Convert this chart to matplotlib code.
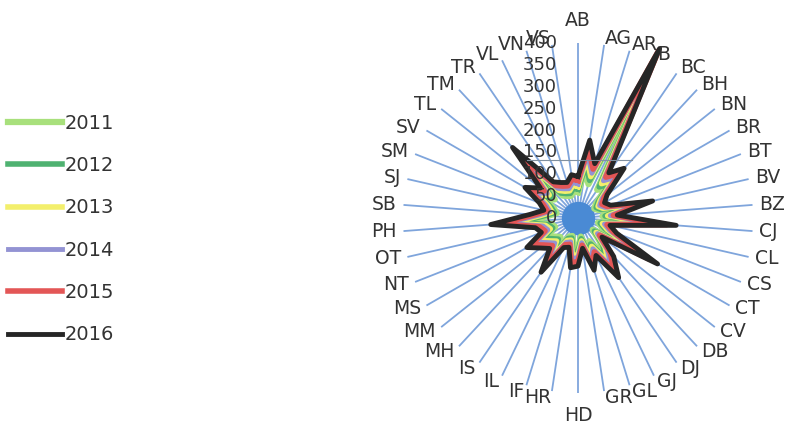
import numpy as np
import matplotlib
matplotlib.use('Agg')
import matplotlib.pyplot as plt
from matplotlib.transforms import offset_copy
from matplotlib.lines import Line2D

categories = ['AB', 'AG', 'AR', 'B', 'BC', 'BH', 'BN', 'BR', 'BT', 'BV', 'BZ', 'CJ',
              'CL', 'CS', 'CT', 'CV', 'DB', 'DJ', 'GJ', 'GL', 'GR', 'HD', 'HR', 'IF',
              'IL', 'IS', 'MH', 'MM', 'MS', 'NT', 'OT', 'PH', 'SB', 'SJ', 'SM', 'SV',
              'TL', 'TM', 'TR', 'VL', 'VN', 'VS']
years = ['2011', '2012', '2013', '2014', '2015', '2016']

v2011 = [59, 112, 81, 398, 78, 96, 53, 43, 50, 109, 56, 140, 47, 59, 130, 43, 74, 102, 59, 78, 43,
         68, 71, 43, 47, 93, 59, 68, 84, 56, 62, 124, 68, 50, 59, 87, 68, 136, 62, 56, 53, 62]
v2012 = [66, 124, 90, 405, 86, 107, 59, 48, 55, 121, 62, 155, 52, 66, 145, 48, 83, 114, 66, 86, 48,
         76, 79, 48, 52, 104, 66, 76, 93, 62, 69, 138, 76, 55, 66, 97, 76, 152, 69, 62, 59, 69]
v2013 = [72, 137, 99, 412, 95, 118, 65, 53, 61, 133, 68, 171, 57, 72, 160, 53, 91, 125, 72, 95, 53,
         84, 87, 53, 57, 114, 72, 84, 103, 68, 76, 152, 84, 61, 72, 106, 84, 167, 76, 68, 65, 76]
v2014 = [78, 148, 107, 418, 103, 127, 70, 57, 66, 144, 74, 185, 62, 78, 172, 57, 98, 135, 78, 103, 57,
         90, 94, 57, 62, 123, 78, 90, 111, 74, 82, 164, 90, 66, 78, 115, 90, 180, 82, 74, 70, 82]
v2015 = [86, 162, 117, 424, 113, 140, 77, 63, 72, 158, 81, 203, 68, 86, 189, 63, 108, 149, 86, 113, 63,
         99, 104, 63, 68, 135, 86, 99, 122, 81, 90, 180, 99, 72, 86, 126, 99, 198, 90, 81, 77, 90]
v2016 = [95, 180, 130, 430, 125, 155, 85, 70, 80, 175, 90, 225, 75, 95, 210, 70, 120, 165, 95, 125, 70,
         110, 115, 70, 75, 150, 95, 110, 135, 90, 100, 200, 110, 80, 95, 140, 110, 220, 100, 90, 85, 100]

radial_ticks = [0, 50, 100, 150, 200, 250, 300, 350, 400]

series = [v2011, v2012, v2013, v2014, v2015, v2016]
colors = ['#a8e07c', '#4fb271', '#f3ef6c', '#9393d3', '#e35656', '#262626']
widths = [4.5, 4.0, 4.0, 3.5, 4.0, 3.5]

W, H = 787, 425
fig = plt.figure(figsize=(W / 100, H / 100), dpi=100)
cx, cy = 578, 218
px_per_400 = 175.0
rmax = 450
R = px_per_400 * rmax / 400
ax = fig.add_axes([(cx - R) / W, (H - cy - R) / H, 2 * R / W, 2 * R / H], projection='polar')
ax.set_theta_zero_location('N')
ax.set_theta_direction(-1)
ax.set_ylim(0, rmax)
ax.axis('off')

N = len(categories)
theta = np.arange(N) * 2 * np.pi / N
spoke_max = radial_ticks[-1]
ax.vlines(theta, 0, spoke_max, color='#7fa5dc', lw=1.3, zorder=1)

hub_r = 38
tt = np.linspace(0, 2 * np.pi, 200)
ax.fill_between(tt, 0, hub_r, color='#4a8ad4', zorder=2, lw=0)

handles = []
for vals, col, lw, yr in zip(series, colors, widths, years):
    th = np.append(theta, theta[0])
    rr = np.append(vals, vals[0])
    ln, = ax.plot(th, rr, color=col, lw=lw, zorder=3, label=yr, solid_joinstyle='round')
    handles.append(ln)

txt_col = '#333333'
tick_tr = offset_copy(ax.transData, fig=fig, x=-21, y=0, units='dots')
for v in radial_ticks:
    ax.text(0, v, str(v), transform=tick_tr, ha='right', va='center',
            fontsize=13, color=txt_col, zorder=5)

for t, lab in zip(theta, categories):
    s, c = np.sin(t), np.cos(t)
    if abs(s) < 0.05:
        ha = 'center'
        va = 'bottom' if c > 0 else 'top'
        r = 430
    else:
        ha = 'left' if s > 0 else 'right'
        va = 'center'
        r = 415
    ax.text(t, r, lab, ha=ha, va=va, fontsize=13.5, color=txt_col, clip_on=False)

fig.add_artist(Line2D([527 / W, 632 / W], [1 - 160 / H, 1 - 160 / H], color='#8090a0', lw=0.8))

fig.legend(handles=handles, labels=years, loc='center left', bbox_to_anchor=(8 / W, 1 - 229 / H),
           frameon=False, fontsize=14, handlelength=2.8, handletextpad=0.1,
           labelspacing=1.2, borderpad=0, borderaxespad=0, labelcolor=txt_col)

fig.savefig('out.png', dpi=100)
